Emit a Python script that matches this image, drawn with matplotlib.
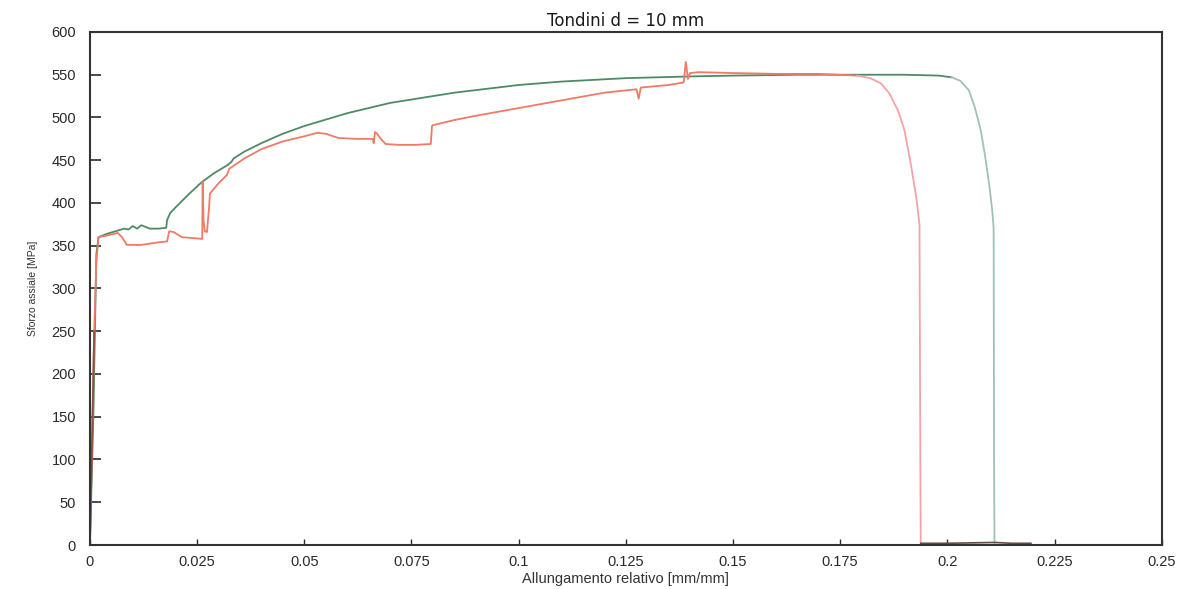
import numpy as np
import matplotlib.pyplot as plt

# Data
green_x = [0, 0.0008, 0.0015, 0.002, 0.004, 0.006, 0.008, 0.009, 0.010, 0.011,
           0.012, 0.014, 0.016, 0.0178, 0.018, 0.0187, 0.020, 0.023, 0.026, 0.029,
           0.032, 0.033, 0.0335, 0.036, 0.040, 0.045, 0.05, 0.06, 0.07, 0.075,
           0.085, 0.1, 0.11, 0.125, 0.14, 0.15, 0.165, 0.175, 0.19, 0.198,
           0.201, 0.203, 0.205, 0.2064, 0.2078, 0.2088, 0.2098, 0.2105, 0.2108,
           0.2109, 0.211]
green_y = [0, 150, 340, 360, 364, 367, 370, 369, 373, 370,
           374, 370, 370, 371, 380, 388, 395, 410, 424, 435,
           444, 448, 452, 460, 470, 481, 490, 505, 517, 521,
           529, 538, 542, 546, 548, 549, 550, 550, 550, 549,
           547, 543, 532, 512, 485, 455, 420, 390, 370, 100, 0]

red_x = [0, 0.0005, 0.001, 0.0015, 0.002, 0.004, 0.0065, 0.0075, 0.0086, 0.012,
         0.016, 0.018, 0.0185, 0.0195, 0.0215, 0.024, 0.0262, 0.0263, 0.0265, 0.0268,
         0.0273, 0.0278, 0.028, 0.030, 0.032, 0.0325, 0.036, 0.040, 0.045, 0.050,
         0.053, 0.055, 0.058, 0.062, 0.066, 0.0662, 0.0665, 0.067, 0.068, 0.069,
         0.072, 0.076, 0.0795, 0.0798, 0.080, 0.085, 0.09, 0.1, 0.11, 0.12,
         0.1275, 0.128, 0.1285, 0.135, 0.1385, 0.139, 0.1395, 0.14, 0.142, 0.15,
         0.16, 0.17, 0.179, 0.182, 0.1845, 0.1865, 0.1885, 0.19, 0.1915, 0.1928,
         0.1935, 0.1937, 0.1938]
red_y = [0, 120, 250, 330, 360, 362, 365, 360, 351, 351,
         354, 355, 367, 366, 360, 359, 358, 425, 380, 367,
         366, 395, 411, 423, 433, 440, 452, 463, 472, 478,
         482, 481, 476, 475, 475, 470, 483, 481, 474, 469,
         468, 468, 469, 490, 491, 497, 502, 511, 520, 529,
         533, 522, 535, 538, 541, 565, 545, 552, 553, 552,
         551, 551, 549, 546, 540, 528, 508, 485, 445, 405,
         375, 100, 0]

tail_x = [0.1938, 0.2, 0.211, 0.215, 0.2195]
tail_y = [2, 2, 3, 2, 2]

plt.rcParams['font.family'] = ['Liberation Sans', 'DejaVu Sans']

fig = plt.figure(figsize=(11.83, 5.89), dpi=100)
ax = fig.add_axes([0.076, 0.0747, 0.906, 0.871])

# main curves, the necking/fracture part drawn lighter
gi = 40
ri = 62
ax.plot(green_x[:gi + 1], green_y[:gi + 1], color='#4f8a66', lw=1.3)
ax.plot(green_x[gi:], green_y[gi:], color='#9ec3b6', lw=1.3)
ax.plot(red_x[:ri + 1], red_y[:ri + 1], color='#f07a66', lw=1.3)
ax.plot(red_x[ri:], red_y[ri:], color='#f4a3a8', lw=1.3)
ax.plot(red_x[:3], red_y[:3], color='#8a5040', lw=1.3)
ax.plot(tail_x, tail_y, color='#6a4a40', lw=1.2)

ax.set_xlim(0, 0.25)
ax.set_ylim(0, 600)
ax.set_xticks([0, 0.025, 0.05, 0.075, 0.1, 0.125, 0.15, 0.175, 0.2, 0.225, 0.25])
ax.set_xticklabels(['0', '0.025', '0.05', '0.075', '0.1', '0.125', '0.15',
                    '0.175', '0.2', '0.225', '0.25'])
ax.set_yticks(np.arange(0, 601, 50))

ax.tick_params(axis='y', direction='in', length=8, width=1.2, colors='#2a2a2a',
               labelsize=10.5, pad=10)
ax.tick_params(axis='x', direction='in', length=4, width=1, colors='#2a2a2a',
               labelsize=10.5, pad=7)
for s in ax.spines.values():
    s.set_color('#333333')
    s.set_linewidth(1.5)

ax.set_title('Tondini d = 10 mm', family='DejaVu Sans', fontsize=12,
             color='#1a1a1a', pad=4)
ax.set_xlabel('Allungamento relativo [mm/mm]', fontsize=10.5, color='#333333',
              labelpad=2)
ax.set_ylabel('Sforzo assiale [MPa]', fontsize=7.5, color='#333333', labelpad=10)

fig.savefig('out.png', dpi=100)
